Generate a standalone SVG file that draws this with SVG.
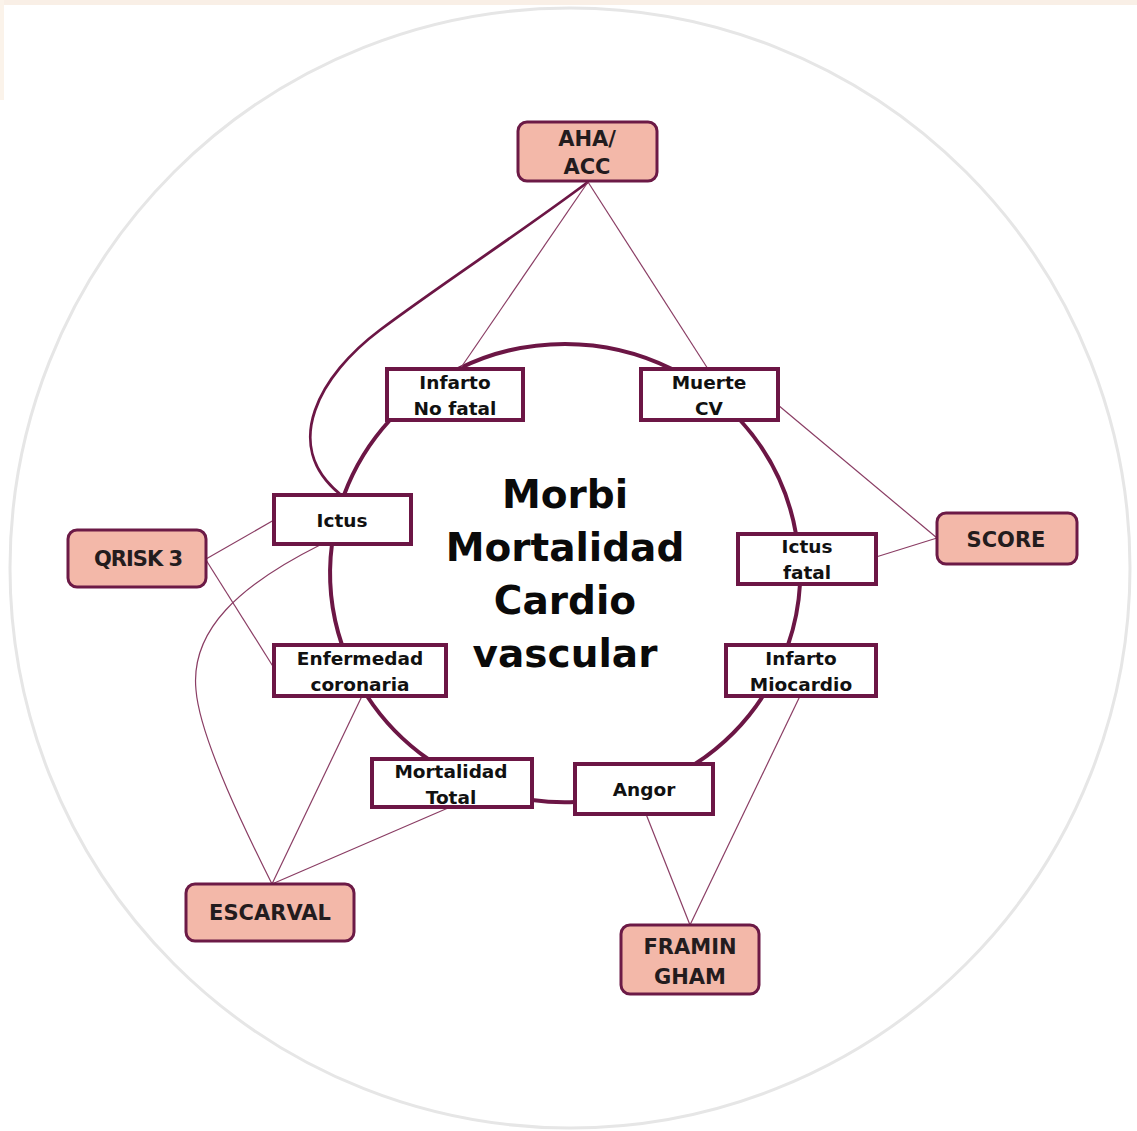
<svg xmlns="http://www.w3.org/2000/svg" width="1137" height="1131" viewBox="0 0 1137 1131">
<style>
.bg{fill:none;stroke:#e6e6e6;stroke-width:3}
.ring{fill:none;stroke:#6c1645;stroke-width:4}
.thick{fill:none;stroke:#6c1645;stroke-width:2.8}
.thin{fill:none;stroke:#8a3d64;stroke-width:1.2}
.box{fill:#ffffff;stroke:#6c1645;stroke-width:4}
.pink{fill:#f3b8a9;stroke:#6c1a46;stroke-width:3}
.lbl{font-family:"DejaVu Sans",sans-serif;font-weight:bold;font-size:18.5px;fill:#111;text-anchor:middle}
.plbl{font-family:"DejaVu Sans",sans-serif;font-weight:bold;font-size:21px;fill:#231c1e;text-anchor:middle}
.title{font-family:"DejaVu Sans",sans-serif;font-weight:bold;font-size:39px;fill:#0a0a0a;text-anchor:middle}
</style>
<rect x="0" y="0" width="1137" height="1131" fill="#ffffff"/>
<rect x="0" y="0" width="1137" height="5" fill="#f9efe6"/>
<rect x="0" y="0" width="4" height="100" fill="#fbf3ea"/>
<circle class="bg" cx="570" cy="568" r="560"/>

<g id="connectors">
  <path class="ring" d="M458,369 A235,229 0 0 1 672,369"/>
  <path class="ring" d="M740,420 A235,229 0 0 1 796,534"/>
  <path class="ring" d="M800,584 A235,229 0 0 1 788,645"/>
  <path class="ring" d="M763,696 A235,229 0 0 1 695,764"/>
  <path class="ring" d="M575,802 A235,229 0 0 1 532,800"/>
  <path class="ring" d="M428,759 A235,229 0 0 1 367,696"/>
  <path class="ring" d="M342,645 A235,229 0 0 1 332,544"/>
  <path class="ring" d="M344,495 A235,229 0 0 1 390,420"/>
  <path class="thick" d="M588,182 C520,233 440,285 380,330 C320,375 280,445 340,494"/>
  <path class="thin" d="M588,182 L460,369"/>
  <path class="thin" d="M588,182 L708,369"/>
  <path class="thin" d="M778,405 L937,538"/>
  <path class="thin" d="M876,557 L937,538"/>
  <path class="thin" d="M206,559 L274,520"/>
  <path class="thin" d="M206,560 L274,668"/>
  <path class="thin" d="M320,545 C240,585 190,630 196,690 C200,740 250,840 272,884"/>
  <path class="thin" d="M362,696 L272,884"/>
  <path class="thin" d="M448,808 L272,884"/>
  <path class="thin" d="M646,814 L690,925"/>
  <path class="thin" d="M800,696 L690,925"/>
</g>

<g id="title">
  <text class="title" x="565" y="508">Morbi</text>
  <text class="title" x="565" y="561">Mortalidad</text>
  <text class="title" x="565" y="614">Cardio</text>
  <text class="title" x="565" y="667">vascular</text>
</g>

<g id="infarto-no-fatal">
  <rect class="box" x="387" y="369" width="136" height="51"/>
  <text class="lbl" x="455" y="389">Infarto</text>
  <text class="lbl" x="455" y="415">No fatal</text>
</g>
<g id="muerte-cv">
  <rect class="box" x="641" y="369" width="137" height="51"/>
  <text class="lbl" x="709" y="389">Muerte</text>
  <text class="lbl" x="709" y="415">CV</text>
</g>
<g id="ictus">
  <rect class="box" x="274" y="495" width="137" height="49"/>
  <text class="lbl" x="342" y="527">Ictus</text>
</g>
<g id="ictus-fatal">
  <rect class="box" x="738" y="534" width="138" height="50"/>
  <text class="lbl" x="807" y="553">Ictus</text>
  <text class="lbl" x="807" y="579">fatal</text>
</g>
<g id="enfermedad-coronaria">
  <rect class="box" x="274" y="645" width="172" height="51"/>
  <text class="lbl" x="360" y="665">Enfermedad</text>
  <text class="lbl" x="360" y="691">coronaria</text>
</g>
<g id="infarto-miocardio">
  <rect class="box" x="726" y="645" width="150" height="51"/>
  <text class="lbl" x="801" y="665">Infarto</text>
  <text class="lbl" x="801" y="691">Miocardio</text>
</g>
<g id="mortalidad-total">
  <rect class="box" x="372" y="759" width="160" height="48"/>
  <text class="lbl" x="451" y="778">Mortalidad</text>
  <text class="lbl" x="451" y="804">Total</text>
</g>
<g id="angor">
  <rect class="box" x="575" y="764" width="138" height="50"/>
  <text class="lbl" x="644" y="796">Angor</text>
</g>

<g id="aha-acc">
  <rect class="pink" x="518" y="122" width="139" height="59" rx="9"/>
  <text class="plbl" x="587" y="146">AHA/</text>
  <text class="plbl" x="587" y="174">ACC</text>
</g>
<g id="score">
  <rect class="pink" x="937" y="513" width="140" height="51" rx="9"/>
  <text class="plbl" x="1006" y="547">SCORE</text>
</g>
<g id="qrisk3">
  <rect class="pink" x="68" y="530" width="138" height="57" rx="9"/>
  <text class="plbl" x="138" y="566" letter-spacing="-1">QRISK 3</text>
</g>
<g id="escarval">
  <rect class="pink" x="186" y="884" width="168" height="57" rx="9"/>
  <text class="plbl" x="270" y="920">ESCARVAL</text>
</g>
<g id="framingham">
  <rect class="pink" x="621" y="925" width="138" height="69" rx="9"/>
  <text class="plbl" x="690" y="954">FRAMIN</text>
  <text class="plbl" x="690" y="984">GHAM</text>
</g>
</svg>
